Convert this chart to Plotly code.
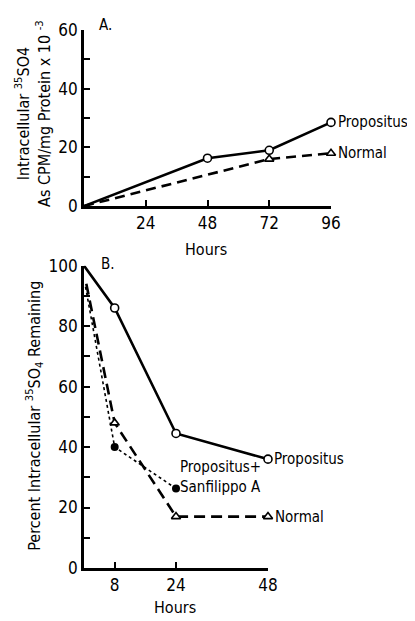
import plotly.graph_objects as go

FONT = "DejaVu Sans Condensed, Liberation Sans Narrow, Arial Narrow, sans-serif"

# Panel A data (hours, intracellular 35SO4 CPM/mg protein x 10^-3)
a_prop_x = [0, 48, 72, 96]
a_prop_y = [0, 16.3, 19, 28.5]
a_norm_x = [0, 72, 96]
a_norm_y = [0, 16, 18]

# Panel B data (hours, percent remaining)
b_prop_x = [0, 8, 24, 48]
b_prop_y = [100, 86, 44.5, 36]
b_norm_x = [0.6, 8, 24, 48]
b_norm_y = [94, 48, 17, 17]
b_sanf_x = [0.4, 8, 24]
b_sanf_y = [93, 40, 26.3]

a_xticks = [24, 48, 72, 96]
a_yticks = [0, 20, 40, 60]
a_yminor = [10, 30, 50]
b_xticks = [8, 24, 48]
b_yticks = [0, 20, 40, 60, 80, 100]
b_yminor = [10, 30, 50, 70, 90]

LW = 2.6
open_circ = dict(symbol="circle", size=8, color="white", line=dict(width=1.6, color="black"))
open_tri = dict(symbol="triangle-up", size=8, color="white", line=dict(width=1.6, color="black"))

fig = go.Figure()

# Panel A
fig.add_trace(go.Scatter(x=a_prop_x, y=a_prop_y, mode="lines", line=dict(color="black", width=LW),
                         xaxis="x", yaxis="y", cliponaxis=False, showlegend=False))
fig.add_trace(go.Scatter(x=a_prop_x[1:], y=a_prop_y[1:], mode="markers", marker=open_circ,
                         xaxis="x", yaxis="y", cliponaxis=False, showlegend=False))
fig.add_trace(go.Scatter(x=a_norm_x, y=a_norm_y, mode="lines", line=dict(color="black", width=LW, dash="10px,6px"),
                         xaxis="x", yaxis="y", cliponaxis=False, showlegend=False))
fig.add_trace(go.Scatter(x=a_norm_x[1:], y=a_norm_y[1:], mode="markers", marker=open_tri,
                         xaxis="x", yaxis="y", cliponaxis=False, showlegend=False))

# Panel B
fig.add_trace(go.Scatter(x=b_sanf_x, y=b_sanf_y, mode="lines", line=dict(color="black", width=1.6, dash="dot"),
                         xaxis="x2", yaxis="y2", cliponaxis=False, showlegend=False))
fig.add_trace(go.Scatter(x=b_sanf_x[1:], y=b_sanf_y[1:], mode="markers", marker=dict(symbol="circle", size=8, color="black"),
                         xaxis="x2", yaxis="y2", cliponaxis=False, showlegend=False))
fig.add_trace(go.Scatter(x=b_norm_x, y=b_norm_y, mode="lines", line=dict(color="black", width=LW, dash="11px,6px"),
                         xaxis="x2", yaxis="y2", cliponaxis=False, showlegend=False))
fig.add_trace(go.Scatter(x=b_norm_x[1:], y=b_norm_y[1:], mode="markers", marker=open_tri,
                         xaxis="x2", yaxis="y2", cliponaxis=False, showlegend=False))
fig.add_trace(go.Scatter(x=b_prop_x, y=b_prop_y, mode="lines", line=dict(color="black", width=LW),
                         xaxis="x2", yaxis="y2", cliponaxis=False, showlegend=False))
fig.add_trace(go.Scatter(x=b_prop_x[1:], y=b_prop_y[1:], mode="markers", marker=open_circ,
                         xaxis="x2", yaxis="y2", cliponaxis=False, showlegend=False))

tickfont = dict(family=FONT, size=17, color="black")
axis_common = dict(showgrid=False, zeroline=False, showline=True, linecolor="black", linewidth=LW,
                   ticks="inside", ticklen=6, tickwidth=1.6, tickcolor="black", tickfont=tickfont)
minor_common = dict(ticks="inside", ticklen=6, tickwidth=1.6, tickcolor="black", showgrid=False)

# page body has an 8px default margin, so the figure is sized 8px smaller
fig.update_layout(
    width=407, height=613,
    margin=dict(l=76, r=84, t=19, b=53),
    paper_bgcolor="white", plot_bgcolor="white",
    font=dict(family=FONT, color="black"),
    xaxis=dict(domain=[0, 1], anchor="y", range=[0, 96], tickvals=a_xticks, **axis_common),
    yaxis=dict(domain=[0.6728, 1], anchor="x", range=[0, 60], tickvals=a_yticks,
               minor=dict(tickvals=a_yminor, **minor_common), **axis_common),
    xaxis2=dict(domain=[0, 0.7449], anchor="y2", range=[0, 48], tickvals=b_xticks, **axis_common),
    yaxis2=dict(domain=[0, 0.5619], anchor="x2", range=[0, 100], tickvals=b_yticks,
                minor=dict(tickvals=b_yminor, **minor_common), **axis_common),
)

lab = dict(family=FONT, size=15, color="black")
ytl = dict(family=FONT, size=16, color="black")
ann = [
    # panel letters
    dict(text="A.", xref="paper", yref="paper", x=0.089, y=1.009, showarrow=False, font=lab, xanchor="center", yanchor="middle"),
    dict(text="B.", xref="paper", yref="paper", x=0.097, y=0.5656, showarrow=False, font=lab, xanchor="center", yanchor="middle"),
    # axis titles
    dict(text="Intracellular <sup>35</sup>SO4<br>As CPM/mg Protein x 10 <sup>-3</sup>", xref="paper", yref="paper",
         x=-0.2045, y=0.845, showarrow=False, textangle=-90, font=ytl, xanchor="center", yanchor="middle"),
    dict(text="Percent Intracellular <sup>35</sup>SO<sub>4</sub> Remaining", xref="paper", yref="paper",
         x=-0.198, y=0.283, showarrow=False, textangle=-90, font=ytl, xanchor="center", yanchor="middle"),
    dict(text="Hours", xref="paper", yref="paper", x=0.494, y=0.5915, showarrow=False, font=ytl, xanchor="center", yanchor="middle"),
    dict(text="Hours", xref="paper", yref="paper", x=0.368, y=-0.074, showarrow=False, font=ytl, xanchor="center", yanchor="middle"),
    # series labels
    dict(text="Propositus", xref="x", yref="y", x=a_prop_x[-1], y=a_prop_y[-1], xanchor="left", yanchor="middle", xshift=5, showarrow=False, font=lab),
    dict(text="Normal", xref="x", yref="y", x=a_norm_x[-1], y=a_norm_y[-1], xanchor="left", yanchor="middle", xshift=5, showarrow=False, font=lab),
    dict(text="Propositus", xref="x2", yref="y2", x=b_prop_x[-1], y=b_prop_y[-1], xanchor="left", yanchor="middle", xshift=4, showarrow=False, font=lab),
    dict(text="Normal", xref="x2", yref="y2", x=b_norm_x[-1], y=b_norm_y[-1], xanchor="left", yanchor="middle", xshift=5, showarrow=False, font=lab),
    dict(text="Propositus+<br>Sanfilippo A", xref="x2", yref="y2", x=b_sanf_x[-1], y=b_sanf_y[-1], xanchor="left", yanchor="bottom",
         xshift=2, yshift=-10, showarrow=False, font=lab, align="left"),
]
fig.update_layout(annotations=ann)

fig.write_html("out.html")
